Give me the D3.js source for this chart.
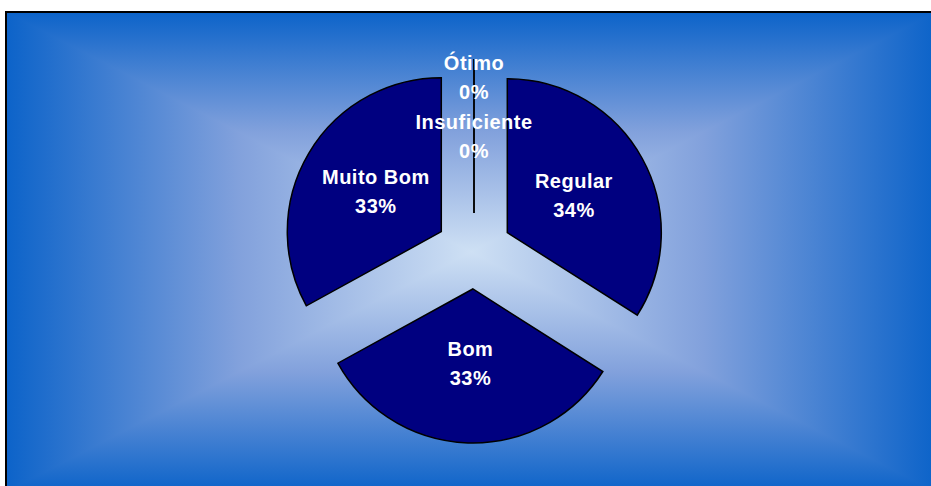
<!DOCTYPE html>
<head>
    <meta charset="utf-8">
    <style>
        body { margin: 0; background: #ffffff; }
        .label { font-family: "Liberation Sans", Arial, sans-serif; font-weight: bold; font-size: 20px; fill: #ffffff; letter-spacing: 0.5px; }
    </style>
    <script src="https://d3js.org/d3.v7.min.js"></script>
</head>
<body>
    <div id="block"></div>
    <script>

        // chart data, clockwise from 12 o'clock
        var categories = ["Insuficiente", "Regular", "Bom", "Muito Bom", "Ótimo"];
        var percents = [0, 34, 33, 33, 0];

        var w = 931,
            h = 486;

        var svg = d3.select("#block")
                    .append("svg")
                    .attr("width", w)
                    .attr("height", h);

        // chart area (runs off the right/bottom of the window)
        var box = {x: 6, y: 12, w: 930, h: 480};
        var cx = box.x + box.w / 2,
            cy = box.y + box.h / 2;

        var edgeColor = "#0c63c9",
            midColor = "#82a1dc",
            centerColor = "#cee0f4";

        var defs = svg.append("defs");

        // "from center" gradient: four triangles, each fading edge -> center
        var corners = [[box.x, box.y], [box.x + box.w, box.y], [box.x + box.w, box.y + box.h], [box.x, box.y + box.h]];
        var edgeMid = [[cx, box.y], [box.x + box.w, cy], [cx, box.y + box.h], [box.x, cy]];

        corners.forEach(function(c, i) {
            var next = corners[(i + 1) % 4];
            var g = defs.append("linearGradient")
                        .attr("id", "tri" + i)
                        .attr("gradientUnits", "userSpaceOnUse")
                        .attr("x1", edgeMid[i][0]).attr("y1", edgeMid[i][1])
                        .attr("x2", cx).attr("y2", cy);
            g.append("stop").attr("offset", "0").attr("stop-color", edgeColor);
            g.append("stop").attr("offset", "0.5").attr("stop-color", midColor);
            g.append("stop").attr("offset", "1").attr("stop-color", centerColor);

            svg.append("polygon")
               .attr("points", [c, next, [cx, cy]].map(function(p) { return p.join(","); }).join(" "))
               .attr("fill", "url(#tri" + i + ")")
               .attr("shape-rendering", "crispEdges");
        });

        svg.append("rect")
           .attr("x", box.x)
           .attr("y", box.y)
           .attr("width", box.w)
           .attr("height", box.h)
           .attr("fill", "none")
           .attr("stroke", "#000")
           .attr("stroke-width", 2);

        // pie
        var radius = 154,
            explode = 38,
            labelR = 76;

        var pieCenter = [474, 251];

        var pie = d3.pie().sort(null).value(function(d) { return d; });
        var arcs = pie(percents);

        var arc = d3.arc().innerRadius(0).outerRadius(radius);

        function offset(d, r) {
            var a = (d.startAngle + d.endAngle) / 2;
            return [Math.sin(a) * r, -Math.cos(a) * r];
        }

        var g = svg.append("g")
                   .attr("transform", "translate(" + pieCenter[0] + "," + pieCenter[1] + ")");

        g.selectAll("path")
         .data(arcs)
         .enter()
         .append("path")
         .attr("d", arc)
         .attr("transform", function(d) { return "translate(" + offset(d, explode) + ")"; })
         .attr("fill", "#000080")
         .attr("stroke", "#000")
         .attr("stroke-width", 1.5)
         .attr("stroke-linejoin", "miter");

        // labels, nudged up when they collide
        var lineH = 29;
        var placed = [];
        var labels = arcs.map(function(d, i) {
            var o1 = offset(d, explode), o2 = offset(d, labelR);
            var p = [o1[0] + o2[0], o1[1] + o2[1]];
            placed.forEach(function(q) {
                if (Math.abs(q[0] - p[0]) < 60 && Math.abs(q[1] - p[1]) < lineH * 2) p[1] = q[1] - lineH * 2 - 1;
            });
            placed.push(p);
            return {name: categories[i], value: d.data, pos: p};
        });

        var lab = g.selectAll("text")
                   .data(labels)
                   .enter()
                   .append("text")
                   .attr("class", "label")
                   .attr("text-anchor", "middle")
                   .attr("transform", function(d) { return "translate(" + d.pos + ")"; });

        lab.append("tspan")
           .attr("x", 0)
           .attr("y", -lineH / 2 + 6)
           .text(function(d) { return d.name; });

        lab.append("tspan")
           .attr("x", 0)
           .attr("y", lineH / 2 + 6)
           .text(function(d) { return d.value + "%"; });

    </script>
</body>
